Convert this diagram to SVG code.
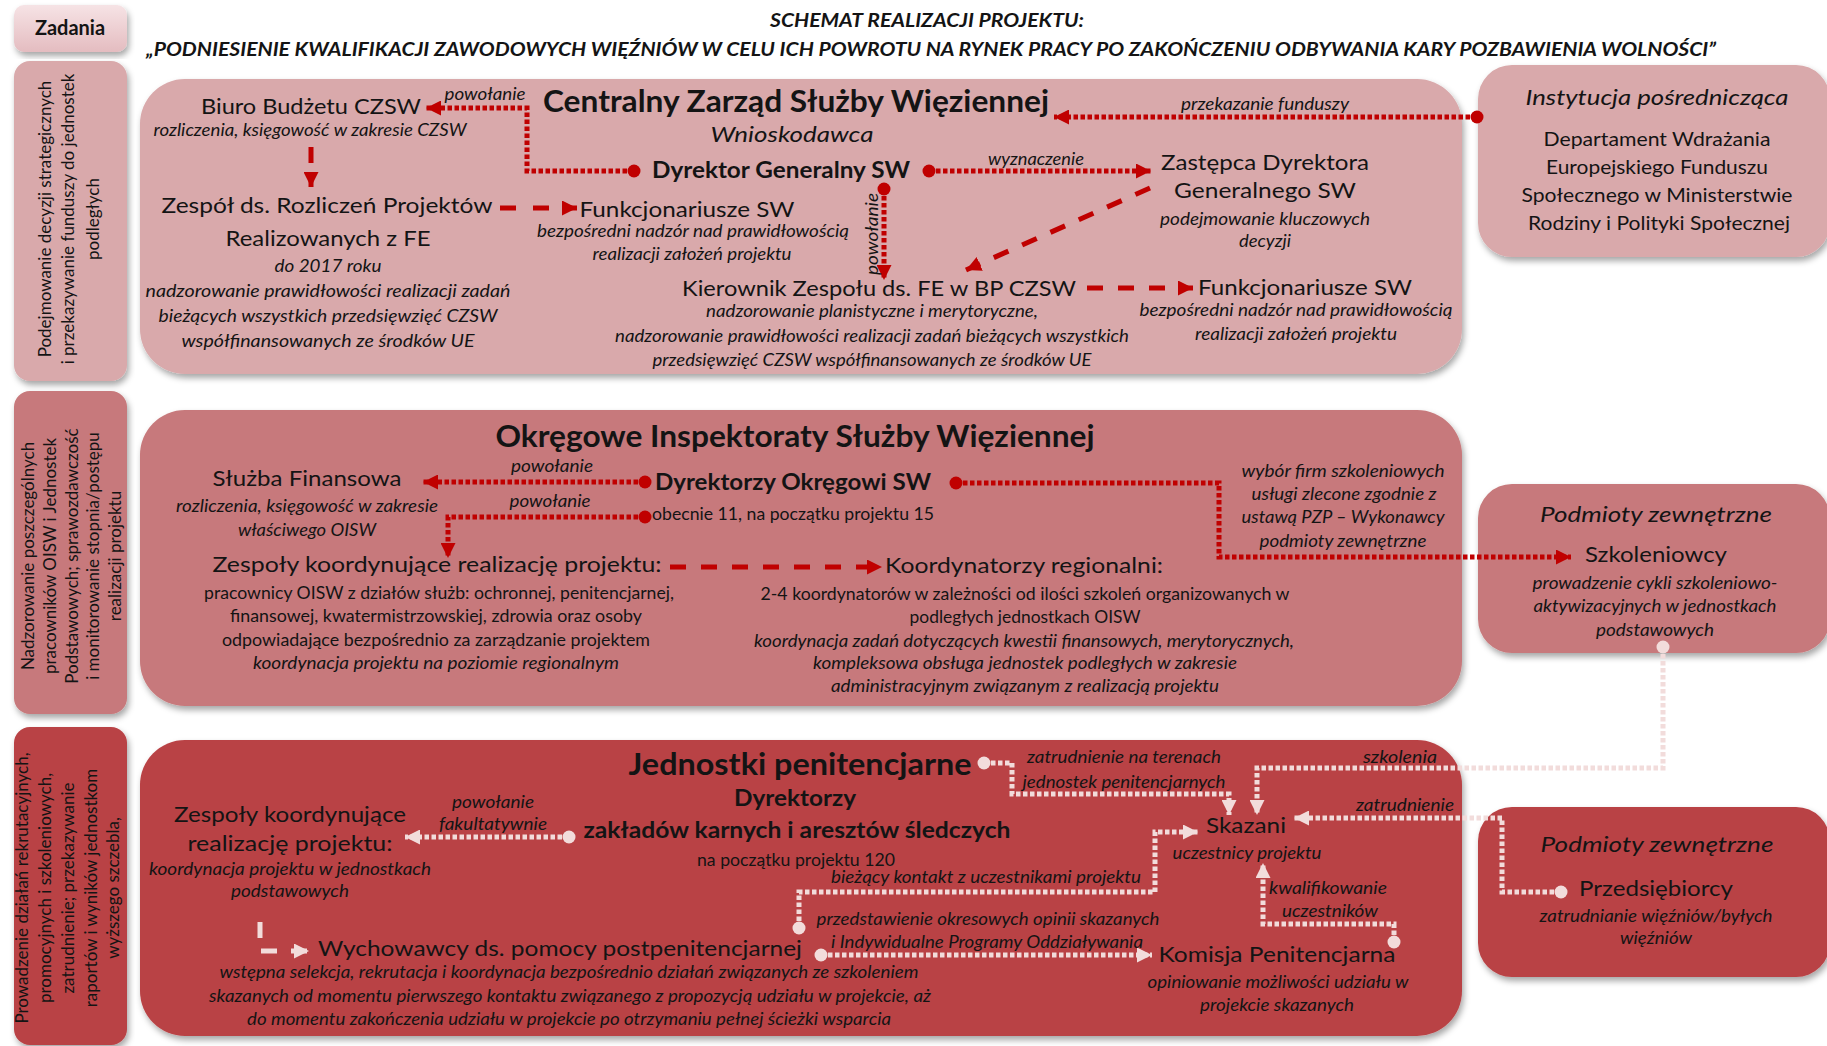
<svg xmlns="http://www.w3.org/2000/svg" width="1827" height="1046" viewBox="0 0 1827 1046">
<style>
text{font-family:Lato,"Liberation Sans",sans-serif;fill:#141414;text-anchor:middle}
.r22{font-size:22px}
.r20{font-size:20px}
.r17{font-size:17px}
.i17{font-size:17px;font-style:italic}
.i22{font-size:22px;font-style:italic}
.i24{font-size:21px;font-style:italic}
.b31{font-size:31px;font-weight:bold}
.b23{font-size:23px;font-weight:bold}
.rot{font-size:17px}
.ttl{font-size:18.5px;font-weight:bold;font-style:italic}
.p1{fill:#d9a9ab}
.p2{fill:#c7797b}
.p3{fill:#b94245}
.rd{fill:none;stroke:#c00000;stroke-width:5;stroke-dasharray:4.5 2.5}
.rdash{fill:none;stroke:#c00000;stroke-width:5;stroke-dasharray:16 15}
.wd{fill:none;stroke:#f2dcdb;stroke-width:5;stroke-dasharray:4.5 2.5}
.wdash{fill:none;stroke:#f2dcdb;stroke-width:5;stroke-dasharray:16 14}
.rdot{fill:#c00000}
.wdot{fill:#f2dcdb}
</style>
<defs>
<filter id="sh" x="-5%" y="-5%" width="112%" height="118%"><feDropShadow dx="2" dy="4" stdDeviation="3" flood-color="#000" flood-opacity="0.35"/></filter>
<linearGradient id="gz" x1="0" y1="0" x2="0" y2="1"><stop offset="0" stop-color="#f6e3e5"/><stop offset="1" stop-color="#e4bcc0"/></linearGradient>
<marker id="ar" viewBox="0 0 10 10" refX="10" refY="5" markerWidth="15" markerHeight="15" markerUnits="userSpaceOnUse" orient="auto"><path d="M0,0 L10,5 L0,10 z" fill="#c00000"/></marker>
<marker id="aw" viewBox="0 0 10 10" refX="10" refY="5" markerWidth="15" markerHeight="15" markerUnits="userSpaceOnUse" orient="auto"><path d="M0,0 L10,5 L0,10 z" fill="#f2dcdb"/></marker>
</defs>
<rect width="1827" height="1046" fill="#ffffff"/>

<g id="header">
<rect x="14" y="5" width="113" height="47" rx="10" fill="url(#gz)" filter="url(#sh)"/>
<text x="70" y="35" style="font-size:20px;font-weight:bold">Zadania</text>
<text class="ttl" x="927" y="27" textLength="314" lengthAdjust="spacingAndGlyphs">SCHEMAT REALIZACJI PROJEKTU:</text>
<text class="ttl" x="931" y="56" textLength="1570" lengthAdjust="spacingAndGlyphs">„PODNIESIENIE KWALIFIKACJI ZAWODOWYCH WIĘŹNIÓW W CELU ICH POWROTU NA RYNEK PRACY PO ZAKOŃCZENIU ODBYWANIA KARY POZBAWIENIA WOLNOŚCI”</text>
</g>

<g id="zadania-1">
<rect class="p1" x="14" y="61" width="113" height="320" rx="16" filter="url(#sh)"/>
<text class="rot" transform="translate(51,219) rotate(-90)">Podejmowanie decyzji strategicznych</text>
<text class="rot" transform="translate(74,219) rotate(-90)">i przekazywanie funduszy do jednostek</text>
<text class="rot" transform="translate(99,219) rotate(-90)">podległych</text>
</g>
<g id="zadania-2">
<rect class="p2" x="14" y="391" width="113" height="323" rx="16" filter="url(#sh)"/>
<text class="rot" transform="translate(34,556) rotate(-90)">Nadzorowanie poszczególnych</text>
<text class="rot" transform="translate(56,556) rotate(-90)">pracowników OISW i Jednostek</text>
<text class="rot" transform="translate(78,556) rotate(-90)">Podstawowych; sprawozdawczość</text>
<text class="rot" transform="translate(99,556) rotate(-90)">i monitorowanie stopnia/postępu</text>
<text class="rot" transform="translate(121,556) rotate(-90)">realizacji projektu</text>
</g>
<g id="zadania-3">
<rect class="p3" x="14" y="727" width="113" height="318" rx="16" filter="url(#sh)"/>
<text class="rot" transform="translate(28,888) rotate(-90)">Prowadzenie działań rekrutacyjnych,</text>
<text class="rot" transform="translate(51,888) rotate(-90)">promocyjnych i szkoleniowych,</text>
<text class="rot" transform="translate(74,888) rotate(-90)">zatrudnienie; przekazywanie</text>
<text class="rot" transform="translate(97,888) rotate(-90)">raportów i wyników jednostkom</text>
<text class="rot" transform="translate(119,888) rotate(-90)">wyższego szczebla,</text>
</g>

<g id="panel-czsw">
<rect class="p1" x="140" y="79" width="1322" height="295" rx="45" filter="url(#sh)"/>
</g>
<g id="panel-oisw">
<rect class="p2" x="140" y="410" width="1322" height="296" rx="45" filter="url(#sh)"/>
</g>
<g id="panel-jp">
<rect class="p3" x="140" y="740" width="1322" height="296" rx="45" filter="url(#sh)"/>
</g>
<g id="instytucja-posredniczaca">
<rect class="p1" x="1478" y="65" width="352" height="192" rx="34" filter="url(#sh)"/>
<text class="i22" x="1657" y="105" textLength="263" lengthAdjust="spacingAndGlyphs">Instytucja pośrednicząca</text>
<text class="r20" x="1657" y="146" textLength="227" lengthAdjust="spacingAndGlyphs">Departament Wdrażania</text>
<text class="r20" x="1657" y="174" textLength="222" lengthAdjust="spacingAndGlyphs">Europejskiego Funduszu</text>
<text class="r20" x="1657" y="202" textLength="271" lengthAdjust="spacingAndGlyphs">Społecznego w Ministerstwie</text>
<text class="r20" x="1659" y="230" textLength="262" lengthAdjust="spacingAndGlyphs">Rodziny i Polityki Społecznej</text>
</g>
<g id="podmioty-szkoleniowcy">
<rect class="p2" x="1478" y="484" width="352" height="169" rx="34" filter="url(#sh)"/>
<text class="i22" x="1656" y="522" textLength="232" lengthAdjust="spacingAndGlyphs">Podmioty zewnętrzne</text>
<text class="r22" x="1656" y="562" textLength="142" lengthAdjust="spacingAndGlyphs">Szkoleniowcy</text>
<text class="i17" x="1655" y="589" textLength="245" lengthAdjust="spacingAndGlyphs">prowadzenie cykli szkoleniowo-</text>
<text class="i17" x="1655" y="612" textLength="243" lengthAdjust="spacingAndGlyphs">aktywizacyjnych w jednostkach</text>
<text class="i17" x="1655" y="636" textLength="118" lengthAdjust="spacingAndGlyphs">podstawowych</text>
</g>
<g id="podmioty-przedsiebiorcy">
<rect class="p3" x="1478" y="807" width="352" height="170" rx="34" filter="url(#sh)"/>
<text class="i22" x="1657" y="852" textLength="233" lengthAdjust="spacingAndGlyphs">Podmioty zewnętrzne</text>
<text class="r22" x="1656" y="896" textLength="154" lengthAdjust="spacingAndGlyphs">Przedsiębiorcy</text>
<text class="i17" x="1656" y="922" textLength="233" lengthAdjust="spacingAndGlyphs">zatrudnianie więźniów/byłych</text>
<text class="i17" x="1656" y="944" textLength="72" lengthAdjust="spacingAndGlyphs">więźniów</text>
</g>

<g id="czsw">
<text class="b31" x="796" y="112" style="font-size:30px" textLength="506" lengthAdjust="spacingAndGlyphs">Centralny Zarząd Służby Więziennej</text>
<text class="i24" x="792" y="142" textLength="163" lengthAdjust="spacingAndGlyphs">Wnioskodawca</text>
</g>
<g id="biuro-budzetu">
<text class="r22" x="311" y="114" textLength="220" lengthAdjust="spacingAndGlyphs">Biuro Budżetu CZSW</text>
<text class="i17" x="310" y="136" textLength="313" lengthAdjust="spacingAndGlyphs">rozliczenia, księgowość w zakresie CZSW</text>
</g>
<g id="zespol-rozliczen">
<text class="r22" x="327" y="213" textLength="331" lengthAdjust="spacingAndGlyphs">Zespół ds. Rozliczeń Projektów</text>
<text class="r22" x="328" y="246" textLength="205" lengthAdjust="spacingAndGlyphs">Realizowanych z FE</text>
<text class="i17" x="328" y="272" textLength="107" lengthAdjust="spacingAndGlyphs">do 2017 roku</text>
<text class="i17" x="328" y="297" textLength="365" lengthAdjust="spacingAndGlyphs">nadzorowanie prawidłowości realizacji zadań</text>
<text class="i17" x="328" y="322" textLength="339" lengthAdjust="spacingAndGlyphs">bieżących wszystkich przedsięwzięć CZSW</text>
<text class="i17" x="328" y="347" textLength="293" lengthAdjust="spacingAndGlyphs">współfinansowanych ze środków UE</text>
</g>
<g id="dyrektor-generalny">
<text class="b23" x="781" y="178" textLength="258" lengthAdjust="spacingAndGlyphs">Dyrektor Generalny SW</text>
</g>
<g id="zastepca-dyrektora">
<text class="r22" x="1265" y="170" textLength="208" lengthAdjust="spacingAndGlyphs">Zastępca Dyrektora</text>
<text class="r22" x="1265" y="198" textLength="182" lengthAdjust="spacingAndGlyphs">Generalnego SW</text>
<text class="i17" x="1265" y="225" textLength="210" lengthAdjust="spacingAndGlyphs">podejmowanie kluczowych</text>
<text class="i17" x="1265" y="247" textLength="52" lengthAdjust="spacingAndGlyphs">decyzji</text>
</g>
<g id="funkcjonariusze-1">
<text class="r22" x="687" y="217" textLength="215" lengthAdjust="spacingAndGlyphs">Funkcjonariusze SW</text>
<text class="i17" x="693" y="237" textLength="312" lengthAdjust="spacingAndGlyphs">bezpośredni nadzór nad prawidłowością</text>
<text class="i17" x="692" y="260" textLength="199" lengthAdjust="spacingAndGlyphs">realizacji założeń projektu</text>
</g>
<g id="kierownik-zespolu">
<text class="r22" x="879" y="296" textLength="394" lengthAdjust="spacingAndGlyphs">Kierownik Zespołu ds. FE w BP CZSW</text>
<text class="i17" x="872" y="317" textLength="332" lengthAdjust="spacingAndGlyphs">nadzorowanie planistyczne i merytoryczne,</text>
<text class="i17" x="872" y="342" textLength="514" lengthAdjust="spacingAndGlyphs">nadzorowanie prawidłowości realizacji zadań bieżących wszystkich</text>
<text class="i17" x="872" y="366" textLength="439" lengthAdjust="spacingAndGlyphs">przedsięwzięć CZSW współfinansowanych ze środków UE</text>
</g>
<g id="funkcjonariusze-2">
<text class="r22" x="1305" y="295" textLength="214" lengthAdjust="spacingAndGlyphs">Funkcjonariusze SW</text>
<text class="i17" x="1296" y="316" textLength="313" lengthAdjust="spacingAndGlyphs">bezpośredni nadzór nad prawidłowością</text>
<text class="i17" x="1296" y="340" textLength="202" lengthAdjust="spacingAndGlyphs">realizacji założeń projektu</text>
</g>

<g id="oisw">
<text class="b31" x="795" y="447" textLength="599" lengthAdjust="spacingAndGlyphs">Okręgowe Inspektoraty Służby Więziennej</text>
</g>
<g id="sluzba-finansowa">
<text class="r22" x="307" y="486" textLength="189" lengthAdjust="spacingAndGlyphs">Służba Finansowa</text>
<text class="i17" x="307" y="512" textLength="262" lengthAdjust="spacingAndGlyphs">rozliczenia, księgowość w zakresie</text>
<text class="i17" x="307" y="536" textLength="138" lengthAdjust="spacingAndGlyphs">właściwego OISW</text>
</g>
<g id="dyrektorzy-okregowi">
<text class="b23" x="793" y="490" textLength="276" lengthAdjust="spacingAndGlyphs">Dyrektorzy Okręgowi SW</text>
<text class="r17" x="793" y="520" textLength="282" lengthAdjust="spacingAndGlyphs">obecnie 11, na początku projektu 15</text>
</g>
<g id="zespoly-koordynujace-oisw">
<text class="r22" x="437" y="572" textLength="449" lengthAdjust="spacingAndGlyphs">Zespoły koordynujące realizację projektu:</text>
<text class="r17" x="439" y="599" textLength="470" lengthAdjust="spacingAndGlyphs">pracownicy OISW z działów służb: ochronnej, penitencjarnej,</text>
<text class="r17" x="436" y="622" textLength="412" lengthAdjust="spacingAndGlyphs">finansowej, kwatermistrzowskiej, zdrowia oraz osoby</text>
<text class="r17" x="436" y="646" textLength="428" lengthAdjust="spacingAndGlyphs">odpowiadające bezpośrednio za zarządzanie projektem</text>
<text class="i17" x="436" y="669" textLength="366" lengthAdjust="spacingAndGlyphs">koordynacja projektu na poziomie regionalnym</text>
</g>
<g id="koordynatorzy-regionalni">
<text class="r22" x="1024" y="573" textLength="278" lengthAdjust="spacingAndGlyphs">Koordynatorzy regionalni:</text>
<text class="r17" x="1025" y="600" textLength="529" lengthAdjust="spacingAndGlyphs">2-4 koordynatorów w zależności od ilości szkoleń organizowanych w</text>
<text class="r17" x="1025" y="623" textLength="231" lengthAdjust="spacingAndGlyphs">podległych jednostkach OISW</text>
<text class="i17" x="1024" y="647" textLength="540" lengthAdjust="spacingAndGlyphs">koordynacja zadań dotyczących kwestii finansowych, merytorycznych,</text>
<text class="i17" x="1025" y="669" textLength="424" lengthAdjust="spacingAndGlyphs">kompleksowa obsługa jednostek podległych w zakresie</text>
<text class="i17" x="1025" y="692" textLength="388" lengthAdjust="spacingAndGlyphs">administracyjnym związanym z realizacją projektu</text>
</g>

<g id="jednostki-penitencjarne">
<text class="b31" x="800" y="775" textLength="343" lengthAdjust="spacingAndGlyphs">Jednostki penitencjarne</text>
</g>
<g id="dyrektorzy-jednostek">
<text class="b23" x="795" y="806" textLength="122" lengthAdjust="spacingAndGlyphs">Dyrektorzy</text>
<text class="b23" x="797" y="838" textLength="427" lengthAdjust="spacingAndGlyphs">zakładów karnych i aresztów śledczych</text>
<text class="r17" x="796" y="866" textLength="198" lengthAdjust="spacingAndGlyphs">na początku projektu 120</text>
</g>
<g id="zespoly-koordynujace-jp">
<text class="r22" x="290" y="822" textLength="232" lengthAdjust="spacingAndGlyphs">Zespoły koordynujące</text>
<text class="r22" x="290" y="851" textLength="205" lengthAdjust="spacingAndGlyphs">realizację projektu:</text>
<text class="i17" x="290" y="875" textLength="282" lengthAdjust="spacingAndGlyphs">koordynacja projektu w jednostkach</text>
<text class="i17" x="290" y="897" textLength="118" lengthAdjust="spacingAndGlyphs">podstawowych</text>
</g>
<g id="wychowawcy">
<text class="r22" x="560" y="956" textLength="484" lengthAdjust="spacingAndGlyphs">Wychowawcy ds. pomocy postpenitencjarnej</text>
<text class="i17" x="569" y="978" textLength="699" lengthAdjust="spacingAndGlyphs">wstępna selekcja, rekrutacja i koordynacja bezpośrednio działań związanych ze szkoleniem</text>
<text class="i17" x="570" y="1002" textLength="722" lengthAdjust="spacingAndGlyphs">skazanych od momentu pierwszego kontaktu związanego z propozycją udziału w projekcie, aż</text>
<text class="i17" x="569" y="1025" textLength="644" lengthAdjust="spacingAndGlyphs">do momentu zakończenia udziału w projekcie po otrzymaniu pełnej ścieżki wsparcia</text>
</g>
<g id="skazani">
<text class="r22" x="1246" y="833" textLength="80" lengthAdjust="spacingAndGlyphs">Skazani</text>
<text class="i17" x="1247" y="859" textLength="149" lengthAdjust="spacingAndGlyphs">uczestnicy projektu</text>
</g>
<g id="komisja-penitencjarna">
<text class="r22" x="1277" y="962" textLength="237" lengthAdjust="spacingAndGlyphs">Komisja Penitencjarna</text>
<text class="i17" x="1278" y="988" textLength="261" lengthAdjust="spacingAndGlyphs">opiniowanie możliwości udziału w</text>
<text class="i17" x="1277" y="1011" textLength="154" lengthAdjust="spacingAndGlyphs">projekcie skazanych</text>
</g>

<g id="connectors">
<path class="rd" d="M634 171 H527 V108 H426" marker-end="url(#ar)"/>
<circle class="rdot" cx="634" cy="171" r="6.5"/>
<path class="rdash" d="M311 147 V187" style="stroke-dasharray:16 10" marker-end="url(#ar)"/>
<path class="rdash" d="M500 208 H577" style="stroke-dasharray:16 17" marker-end="url(#ar)"/>
<path class="rd" d="M929 171 H1151" marker-end="url(#ar)"/>
<circle class="rdot" cx="929" cy="171" r="6.5"/>
<path class="rdash" d="M1150 188 L966 270" marker-end="url(#ar)"/>
<path class="rd" d="M1477 117 H1054" marker-end="url(#ar)"/>
<circle class="rdot" cx="1477" cy="117" r="6.5"/>
<path class="rd" d="M884 189 V280" marker-end="url(#ar)"/>
<circle class="rdot" cx="884" cy="189" r="6.5"/>
<path class="rdash" d="M1087 288 H1193" marker-end="url(#ar)"/>

<path class="rd" d="M645 482 H423" marker-end="url(#ar)"/>
<circle class="rdot" cx="645" cy="482" r="6.5"/>
<path class="rd" d="M645 517 H448 V558" marker-end="url(#ar)"/>
<circle class="rdot" cx="645" cy="517" r="6.5"/>
<path class="rd" d="M956 483 H1219 V557 H1571" marker-end="url(#ar)"/>
<circle class="rdot" cx="956" cy="483" r="6.5"/>
<path class="rdash" d="M670 567 H882" marker-end="url(#ar)"/>

<path class="wd" d="M984 763 H1012 V794 H1229 V815" marker-end="url(#aw)"/>
<circle class="wdot" cx="984" cy="763" r="6.5"/>
<path class="wd" d="M1663 647 V768 H1257 V815" marker-end="url(#aw)"/>
<circle class="wdot" cx="1663" cy="647" r="6.5"/>
<path class="wd" d="M1561 892 H1502 V818 H1294" marker-end="url(#aw)"/>
<circle class="wdot" cx="1561" cy="892" r="6.5"/>
<path class="wd" d="M569 837 H405" marker-end="url(#aw)"/>
<circle class="wdot" cx="569" cy="837" r="6.5"/>
<path class="wdash" d="M260 922 V951 H309" marker-end="url(#aw)"/>
<path class="wd" d="M799 928 V892 H1155 V832 H1198" marker-end="url(#aw)"/>
<circle class="wdot" cx="799" cy="928" r="6.5"/>
<path class="wd" d="M821 955 H1152" marker-end="url(#aw)"/>
<circle class="wdot" cx="821" cy="955" r="6.5"/>
<path class="wd" d="M1394 942 V924 H1263 V863" marker-end="url(#aw)"/>
<circle class="wdot" cx="1394" cy="942" r="6.5"/>

<g id="connector-labels">
<text class="i17" x="485" y="100" textLength="81" lengthAdjust="spacingAndGlyphs">powołanie</text>
<text class="i17" x="1036" y="165" textLength="96" lengthAdjust="spacingAndGlyphs">wyznaczenie</text>
<text class="i17" x="1265" y="110" textLength="168" lengthAdjust="spacingAndGlyphs">przekazanie funduszy</text>
<text class="i17" transform="translate(878,234) rotate(-90)" textLength="82" lengthAdjust="spacingAndGlyphs">powołanie</text>
<text class="i17" x="552" y="472" textLength="82" lengthAdjust="spacingAndGlyphs">powołanie</text>
<text class="i17" x="550" y="507" textLength="81" lengthAdjust="spacingAndGlyphs">powołanie</text>
<text class="i17" x="1343" y="477" textLength="203" lengthAdjust="spacingAndGlyphs">wybór firm szkoleniowych</text>
<text class="i17" x="1344" y="500" textLength="185" lengthAdjust="spacingAndGlyphs">usługi zlecone zgodnie z</text>
<text class="i17" x="1343" y="523" textLength="203" lengthAdjust="spacingAndGlyphs">ustawą PZP – Wykonawcy</text>
<text class="i17" x="1343" y="547" textLength="167" lengthAdjust="spacingAndGlyphs">podmioty zewnętrzne</text>
<text class="i17" x="493" y="808" textLength="82" lengthAdjust="spacingAndGlyphs">powołanie</text>
<text class="i17" x="493" y="830" textLength="108" lengthAdjust="spacingAndGlyphs">fakultatywnie</text>
<text class="i17" x="1124" y="763" textLength="194" lengthAdjust="spacingAndGlyphs">zatrudnienie na terenach</text>
<text class="i17" x="1124" y="788" textLength="203" lengthAdjust="spacingAndGlyphs">jednostek penitencjarnych</text>
<text class="i17" x="1400" y="763" textLength="74" lengthAdjust="spacingAndGlyphs">szkolenia</text>
<text class="i17" x="1405" y="811" textLength="98" lengthAdjust="spacingAndGlyphs">zatrudnienie</text>
<text class="i17" x="986" y="883" textLength="310" lengthAdjust="spacingAndGlyphs">bieżący kontakt z uczestnikami projektu</text>
<text class="i17" x="988" y="925" textLength="343" lengthAdjust="spacingAndGlyphs">przedstawienie okresowych opinii skazanych</text>
<text class="i17" x="987" y="948" textLength="312" lengthAdjust="spacingAndGlyphs">i Indywidualne Programy Oddziaływania</text>
<text class="i17" x="1328" y="894" textLength="118" lengthAdjust="spacingAndGlyphs">kwalifikowanie</text>
<text class="i17" x="1330" y="917" textLength="96" lengthAdjust="spacingAndGlyphs">uczestników</text>
</g>
</g>
</svg>
